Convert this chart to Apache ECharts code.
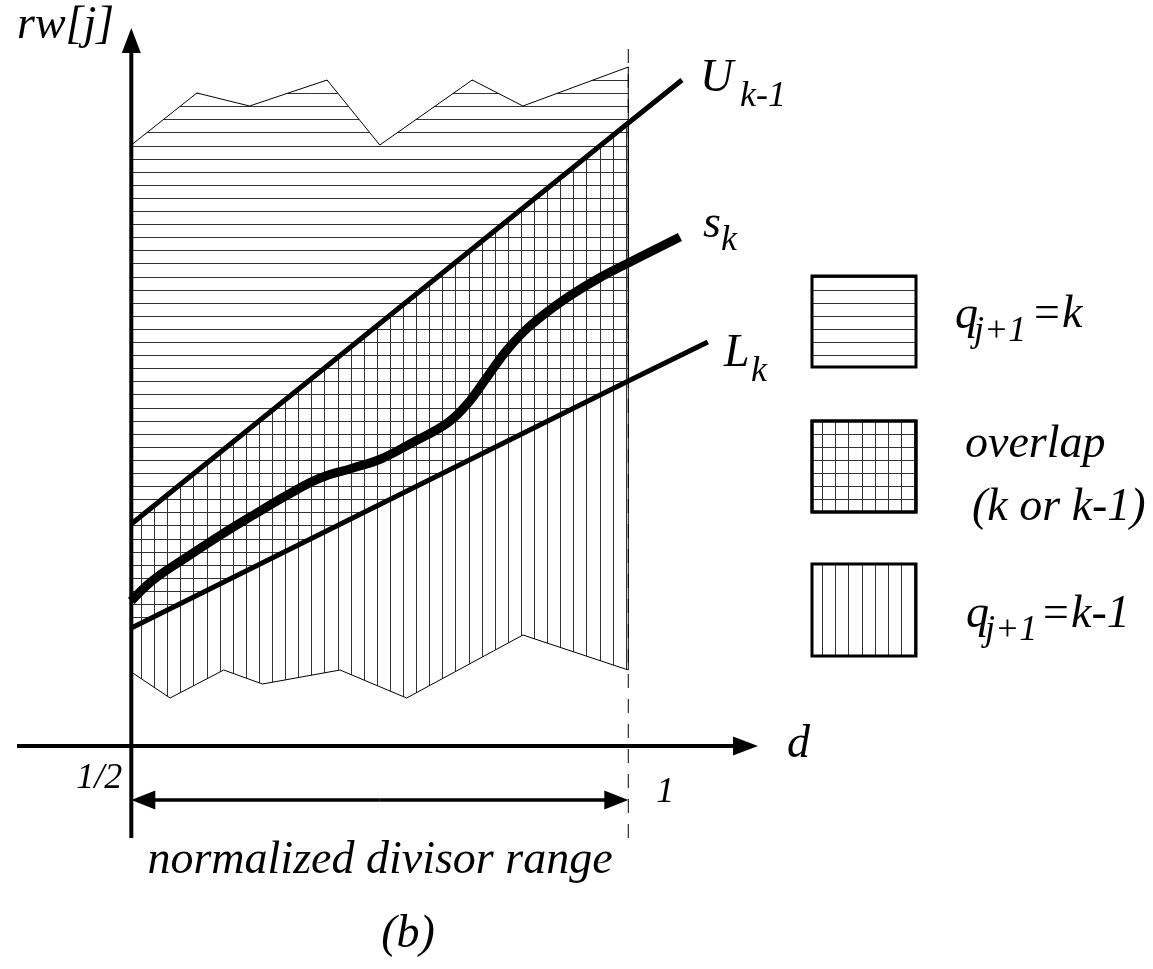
<!DOCTYPE html>
<html>
<head>
<meta charset="utf-8">
<script src="https://cdn.jsdelivr.net/npm/echarts@6/dist/echarts.min.js"></script>
<style>
html, body { margin: 0; padding: 0; background: #fff; }
#chart { width: 1153px; height: 969px; }
</style>
</head>
<body>
<div id="chart"></div>
<script>
// d = normalized divisor (1/2 .. 1), rw[j] in arbitrary units
var dTicks = [0.5, 1.0];
var dTickLabels = ['1/2', '1'];

// upper ragged edge of the q = k region
var topEdgeD  = [0.5, 0.566, 0.619, 0.697, 0.750, 0.843, 0.894, 1.0];
var topEdgeRw = [6.01, 6.53, 6.40, 6.66, 6.01, 6.66, 6.40, 6.79];

// lower ragged edge of the q = k-1 region
var bottomEdgeD  = [0.5, 0.539, 0.593, 0.632, 0.710, 0.777, 0.894, 1.0];
var bottomEdgeRw = [0.74, 0.48, 0.76, 0.62, 0.76, 0.48, 1.11, 0.76];

// U(k-1) and L(k) bounds (straight lines)
var upperD  = [0.5, 1.0, 1.054];
var upperRw = [2.22, 6.23, 6.66];
var lowerD  = [0.5, 1.0, 1.080];
var lowerRw = [1.18, 3.65, 4.04];

// selection constant s(k)
var sD  = [0.5, 0.522, 0.556, 0.590, 0.623, 0.657, 0.690, 0.723, 0.751, 0.784,
           0.818, 0.838, 0.858, 0.878, 0.901, 0.935, 0.969, 1.0, 1.052];
var sRw = [1.45, 1.66, 1.89, 2.11, 2.31, 2.51, 2.68, 2.78, 2.87, 3.04,
           3.23, 3.42, 3.69, 3.96, 4.20, 4.46, 4.67, 4.83, 5.09];

// where the axes, the range arrow and the d = 1 marker sit (data units)
var axisD = [0.385, 1.1305];
var axisRw = [-0.92, 7.18];
var rangeRw = -0.54;
var dashRw = [-0.92, 7.06];

function hatch(vertical, offset) {
    var c = document.createElement('canvas');
    c.width = 131; c.height = 131;
    var g = c.getContext('2d');
    g.fillStyle = '#333';
    for (var k = 0; k < 10; k++) {
        var p = (offset + Math.round(k * 13.1)) % 131;
        if (vertical) g.fillRect(p, 0, 1, 131);
        else g.fillRect(0, p, 131, 1);
    }
    return { image: c, repeat: 'repeat' };
}
var hatchH = hatch(false, 80);
var hatchV = hatch(true, 10);

var measureCtx = document.createElement('canvas').getContext('2d');

function zip(xs, ys) {
    return xs.map(function (x, i) { return [x, ys[i]]; });
}

function arrow(from, tip, len, wid, lw) {
    var dx = tip[0] - from[0], dy = tip[1] - from[1];
    var n = Math.sqrt(dx * dx + dy * dy);
    var ux = dx / n, uy = dy / n;
    var bx = tip[0] - ux * len, by = tip[1] - uy * len;
    return [
        { type: 'polygon', shape: { points: [tip, [bx - uy * wid / 2, by + ux * wid / 2], [bx + uy * wid / 2, by - ux * wid / 2]] },
          style: { fill: '#000' } },
        { type: 'line', shape: { x1: from[0], y1: from[1], x2: bx + ux, y2: by + uy },
          style: { stroke: '#000', lineWidth: lw } }
    ];
}

// (x, y) = anchor point and vertical middle of the text
function txt(x, y, s, size, align) {
    var font = 'italic ' + size + 'px "Liberation Serif"';
    measureCtx.font = font;
    var w = measureCtx.measureText(s).width;
    var left = align === 'center' ? x - w / 2 : align === 'right' ? x - w : x;
    return {
        type: 'text', x: left, y: y - size / 2,
        style: { text: s, font: font, fill: '#000' }
    };
}

var chart = echarts.init(document.getElementById('chart'));

var option = {
    animation: false,
    backgroundColor: '#fff',
    grid: { left: 17, right: 395, top: 28, bottom: 131 },
    xAxis: { type: 'value', min: axisD[0], max: axisD[1], show: false },
    yAxis: { type: 'value', min: axisRw[0], max: axisRw[1], show: false },
    series: [
        {
            // q = k region (horizontal hatching)
            type: 'custom', z: 1, silent: true,
            data: [[0.5, 0]],
            renderItem: function (params, api) {
                var pts = zip(topEdgeD, topEdgeRw).map(function (p) { return api.coord(p); });
                pts.push(api.coord([lowerD[1], lowerRw[1]]));
                pts.push(api.coord([lowerD[0], lowerRw[0]]));
                return { type: 'polygon', shape: { points: pts },
                         style: { fill: hatchH, stroke: '#000', lineWidth: 1 } };
            }
        },
        {
            // q = k-1 region (vertical hatching)
            type: 'custom', z: 1, silent: true,
            data: [[0.5, 0]],
            renderItem: function (params, api) {
                var pts = [api.coord([upperD[0], upperRw[0]]), api.coord([upperD[1], upperRw[1]])];
                zip(bottomEdgeD, bottomEdgeRw).reverse().forEach(function (p) { pts.push(api.coord(p)); });
                return { type: 'polygon', shape: { points: pts },
                         style: { fill: hatchV, stroke: '#000', lineWidth: 1 } };
            }
        },
        {
            name: 'U', type: 'line', z: 3, silent: true, showSymbol: false,
            data: zip(upperD, upperRw),
            lineStyle: { color: '#000', width: 5 }
        },
        {
            name: 'L', type: 'line', z: 3, silent: true, showSymbol: false,
            data: zip(lowerD, lowerRw),
            lineStyle: { color: '#000', width: 5 }
        },
        {
            name: 's', type: 'line', z: 3, silent: true, showSymbol: false, smooth: 0.4,
            data: zip(sD, sRw),
            lineStyle: { color: '#000', width: 9 }
        },
        {
            // axes, range arrow, d = 1 marker and tick labels
            type: 'custom', z: 4, silent: true,
            data: [[0.5, 0]],
            renderItem: function (params, api) {
                var kids = [];
                var p0 = api.coord([dTicks[1], dashRw[0]]);
                var p1 = api.coord([dTicks[1], dashRw[1]]);
                kids.push({ type: 'line', shape: { x1: p0[0], y1: p0[1], x2: p1[0], y2: p1[1] },
                            style: { stroke: '#000', lineWidth: 1, lineDash: [14, 11] } });
                kids = kids.concat(arrow(api.coord([dTicks[0], axisRw[0]]), api.coord([dTicks[0], axisRw[1]]), 25, 19, 4));
                kids = kids.concat(arrow(api.coord([axisD[0], 0]), api.coord([axisD[1], 0]), 25, 19, 4));
                var a = api.coord([dTicks[0], rangeRw]), b = api.coord([dTicks[1], rangeRw]);
                var mid = [(a[0] + b[0]) / 2, a[1]];
                kids = kids.concat(arrow(mid, a, 24, 19, 3.5));
                kids = kids.concat(arrow(mid, b, 24, 19, 3.5));
                var t0 = api.coord([dTicks[0], 0]), t1 = api.coord([dTicks[1], 0]);
                kids.push(txt(t0[0] - 9, t0[1] + 33, dTickLabels[0], 36, 'right'));
                kids.push(txt(t1[0] + 28, t1[1] + 47, dTickLabels[1], 36, 'left'));
                return { type: 'group', children: kids };
            }
        }
    ],
    graphic: [
        txt(17, 26, 'rw[j]', 46),
        txt(787, 745, 'd', 46),
        txt(380, 861, 'normalized divisor range', 46, 'center'),
        txt(408, 935, '(b)', 46, 'center'),

        txt(700, 79, 'U', 46),
        txt(740, 97, 'k-1', 36),
        txt(703, 225, 's', 46),
        txt(721, 241, 'k', 36),
        txt(724, 354, 'L', 46),
        txt(751, 372, 'k', 36),

        { type: 'rect', shape: { x: 812, y: 276, width: 104, height: 91 },
          style: { fill: hatchH, stroke: '#000', lineWidth: 3 } },
        { type: 'rect', shape: { x: 812, y: 421, width: 104, height: 91 },
          style: { fill: hatchH, stroke: '#000', lineWidth: 3 } },
        { type: 'rect', shape: { x: 812, y: 421, width: 104, height: 91 },
          style: { fill: hatchV, stroke: '#000', lineWidth: 3 } },
        { type: 'rect', shape: { x: 812, y: 564, width: 104, height: 92 },
          style: { fill: hatchV, stroke: '#000', lineWidth: 3 } },

        txt(955, 316, 'q', 46),
        txt(974, 332, 'j+1', 36),
        txt(1031, 315, '=k', 46),
        txt(965, 445, 'overlap', 46),
        txt(972, 508, '(k or k-1)', 46),
        txt(966, 615, 'q', 46),
        txt(985, 631, 'j+1', 36),
        txt(1040, 615, '=k-1', 46)
    ]
};

chart.setOption(option);

window.addEventListener('resize', function () {
    chart.resize();
});
</script>
</body>
</html>
